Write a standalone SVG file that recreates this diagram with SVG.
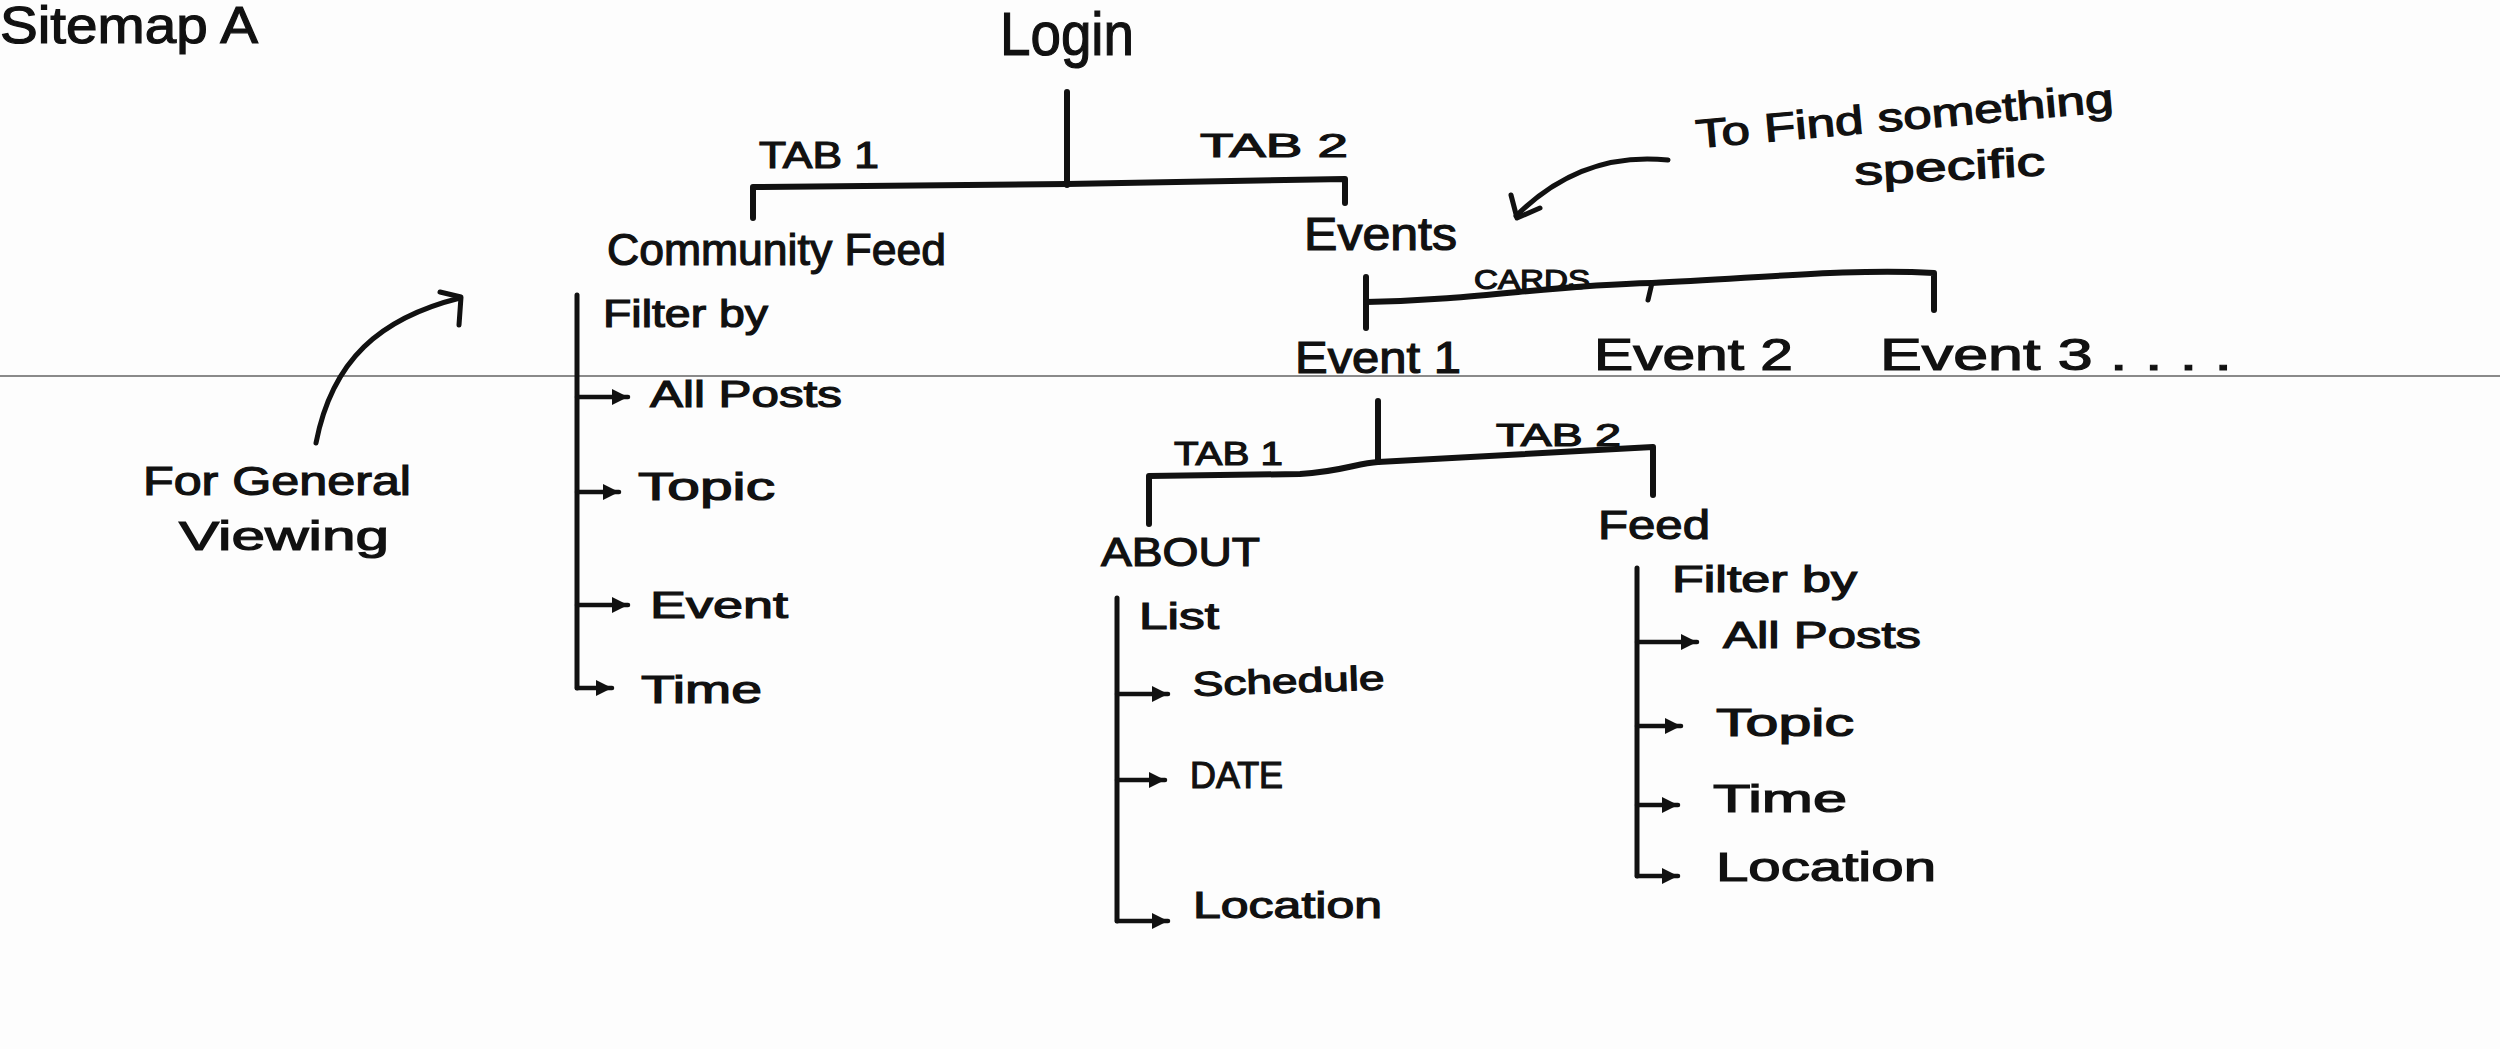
<svg xmlns="http://www.w3.org/2000/svg" width="2500" height="1049" viewBox="0 0 2500 1049">
<style>
text{font-family:"Liberation Sans","Open Sans",sans-serif;fill:#111;stroke:#111;stroke-width:1.2}
.ln{fill:none;stroke:#111;stroke-width:6;stroke-linecap:round;stroke-linejoin:round}
.thin{fill:none;stroke:#111;stroke-width:5;stroke-linecap:round;stroke-linejoin:round}
.ar{fill:none;stroke:#111;stroke-width:4.5;stroke-linecap:round;marker-end:url(#ah)}
</style>
<defs>
<marker id="ah" markerUnits="userSpaceOnUse" markerWidth="18" markerHeight="18" refX="16" refY="9" orient="auto">
<path d="M0,1 L16,9 L0,17 Z" fill="#111"/>
</marker>
</defs>
<rect width="2500" height="1049" fill="#fdfdfd"/>
<line x1="0" y1="376" x2="2500" y2="376" stroke="#8a8a8a" stroke-width="2"/>

<g id="title"><text x="0" y="43" font-size="52" textLength="258" lengthAdjust="spacingAndGlyphs">Sitemap A</text></g>
<g id="login"><text x="1000" y="55" font-size="62" textLength="134" lengthAdjust="spacingAndGlyphs">Login</text></g>
<g id="tab1-top"><text x="759" y="168" font-size="36" textLength="120" lengthAdjust="spacingAndGlyphs">TAB 1</text></g>
<g id="tab2-top"><text x="1200" y="157" font-size="34" textLength="148" lengthAdjust="spacingAndGlyphs">TAB 2</text></g>
<g id="community-feed"><text x="607" y="265" font-size="44" textLength="339" lengthAdjust="spacingAndGlyphs">Community Feed</text></g>
<g id="events"><text x="1304" y="250" font-size="46" textLength="153" lengthAdjust="spacingAndGlyphs">Events</text></g>
<g id="note-specific">
<text x="1697" y="148" font-size="40" textLength="419" lengthAdjust="spacingAndGlyphs" transform="rotate(-5 1697 148)">To Find something</text>
<text x="1855" y="185" font-size="40" textLength="191" lengthAdjust="spacingAndGlyphs" transform="rotate(-3 1855 185)">specific</text>
</g>
<g id="cards"><text x="1474" y="289" font-size="28" textLength="116" lengthAdjust="spacingAndGlyphs">CARDS</text></g>
<g id="event1"><text x="1295" y="373" font-size="44" textLength="166" lengthAdjust="spacingAndGlyphs">Event 1</text></g>
<g id="event2"><text x="1594" y="370" font-size="44" textLength="199" lengthAdjust="spacingAndGlyphs">Event 2</text></g>
<g id="event3"><text x="1880" y="370" font-size="44" textLength="352" lengthAdjust="spacingAndGlyphs">Event 3 . . . .</text></g>

<g id="cf-filter"><text x="603" y="327" font-size="38" textLength="165" lengthAdjust="spacingAndGlyphs">Filter by</text></g>
<g id="cf-allposts"><text x="650" y="407" font-size="37" textLength="192" lengthAdjust="spacingAndGlyphs">All Posts</text></g>
<g id="cf-topic"><text x="638" y="500" font-size="38" textLength="137" lengthAdjust="spacingAndGlyphs">Topic</text></g>
<g id="cf-event"><text x="650" y="618" font-size="37" textLength="138" lengthAdjust="spacingAndGlyphs">Event</text></g>
<g id="cf-time"><text x="641" y="703" font-size="38" textLength="121" lengthAdjust="spacingAndGlyphs">Time</text></g>
<g id="note-general">
<text x="143" y="495" font-size="40" textLength="268" lengthAdjust="spacingAndGlyphs">For General</text>
<text x="179" y="550" font-size="40" textLength="210" lengthAdjust="spacingAndGlyphs">Viewing</text>
</g>

<g id="tab1-low"><text x="1174" y="465" font-size="34" textLength="109" lengthAdjust="spacingAndGlyphs">TAB 1</text></g>
<g id="tab2-low"><text x="1496" y="446" font-size="32" textLength="125" lengthAdjust="spacingAndGlyphs">TAB 2</text></g>
<g id="about"><text x="1101" y="566" font-size="40" textLength="159" lengthAdjust="spacingAndGlyphs">ABOUT</text></g>
<g id="feed"><text x="1598" y="539" font-size="40" textLength="112" lengthAdjust="spacingAndGlyphs">Feed</text></g>
<g id="ab-list"><text x="1139" y="629" font-size="36" textLength="80" lengthAdjust="spacingAndGlyphs">List</text></g>
<g id="ab-schedule"><text x="1193" y="696" font-size="34" textLength="192" lengthAdjust="spacingAndGlyphs" transform="rotate(-2 1193 696)">Schedule</text></g>
<g id="ab-date"><text x="1190" y="788" font-size="36" textLength="93" lengthAdjust="spacingAndGlyphs">DATE</text></g>
<g id="ab-location"><text x="1193" y="918" font-size="37" textLength="189" lengthAdjust="spacingAndGlyphs">Location</text></g>
<g id="fd-filter"><text x="1672" y="592" font-size="36" textLength="185" lengthAdjust="spacingAndGlyphs">Filter by</text></g>
<g id="fd-allposts"><text x="1723" y="648" font-size="37" textLength="198" lengthAdjust="spacingAndGlyphs">All Posts</text></g>
<g id="fd-topic"><text x="1716" y="736" font-size="38" textLength="138" lengthAdjust="spacingAndGlyphs">Topic</text></g>
<g id="fd-time"><text x="1713" y="812" font-size="38" textLength="134" lengthAdjust="spacingAndGlyphs">Time</text></g>
<g id="fd-location"><text x="1716" y="881" font-size="40" textLength="220" lengthAdjust="spacingAndGlyphs">Location</text></g>

<g id="connectors">
<path class="ln" d="M1067,92 L1067,185"/>
<path class="ln" d="M753,218 L753,187 L1067,184 L1345,179 L1345,203"/>
<path class="thin" d="M1668,160 C1610,154 1560,172 1516,216"/>
<path class="thin" d="M1511,195 L1517,218 L1540,208"/>
<path class="ln" d="M1366,277 L1366,328"/>
<path class="ln" d="M1366,302 C1480,300 1550,285 1652,283 C1750,279 1850,268 1934,273 L1934,310"/>
<path class="thin" d="M1652,283 L1648,300"/>
<path class="ln" d="M1378,401 L1378,462"/>
<path class="ln" d="M1149,524 L1149,476 L1300,474 C1340,472 1358,463 1378,462 L1653,447 L1653,495"/>
<path class="thin" d="M316,443 C332,360 380,318 460,298"/>
<path class="thin" d="M440,292 L461,297 L459,325"/>
<path class="thin" d="M577,295 L577,688"/>
<path class="ar" d="M577,397 L628,397"/>
<path class="ar" d="M577,492 L619,492"/>
<path class="ar" d="M577,605 L628,605"/>
<path class="ar" d="M577,688 L612,688"/>
<path class="thin" d="M1117,598 L1117,921"/>
<path class="ar" d="M1117,694 L1168,694"/>
<path class="ar" d="M1117,780 L1165,780"/>
<path class="ar" d="M1117,921 L1168,921"/>
<path class="thin" d="M1637,568 L1637,876"/>
<path class="ar" d="M1637,642 L1697,642"/>
<path class="ar" d="M1637,726 L1681,726"/>
<path class="ar" d="M1637,805 L1678,805"/>
<path class="ar" d="M1637,876 L1678,876"/>
</g>
</svg>
